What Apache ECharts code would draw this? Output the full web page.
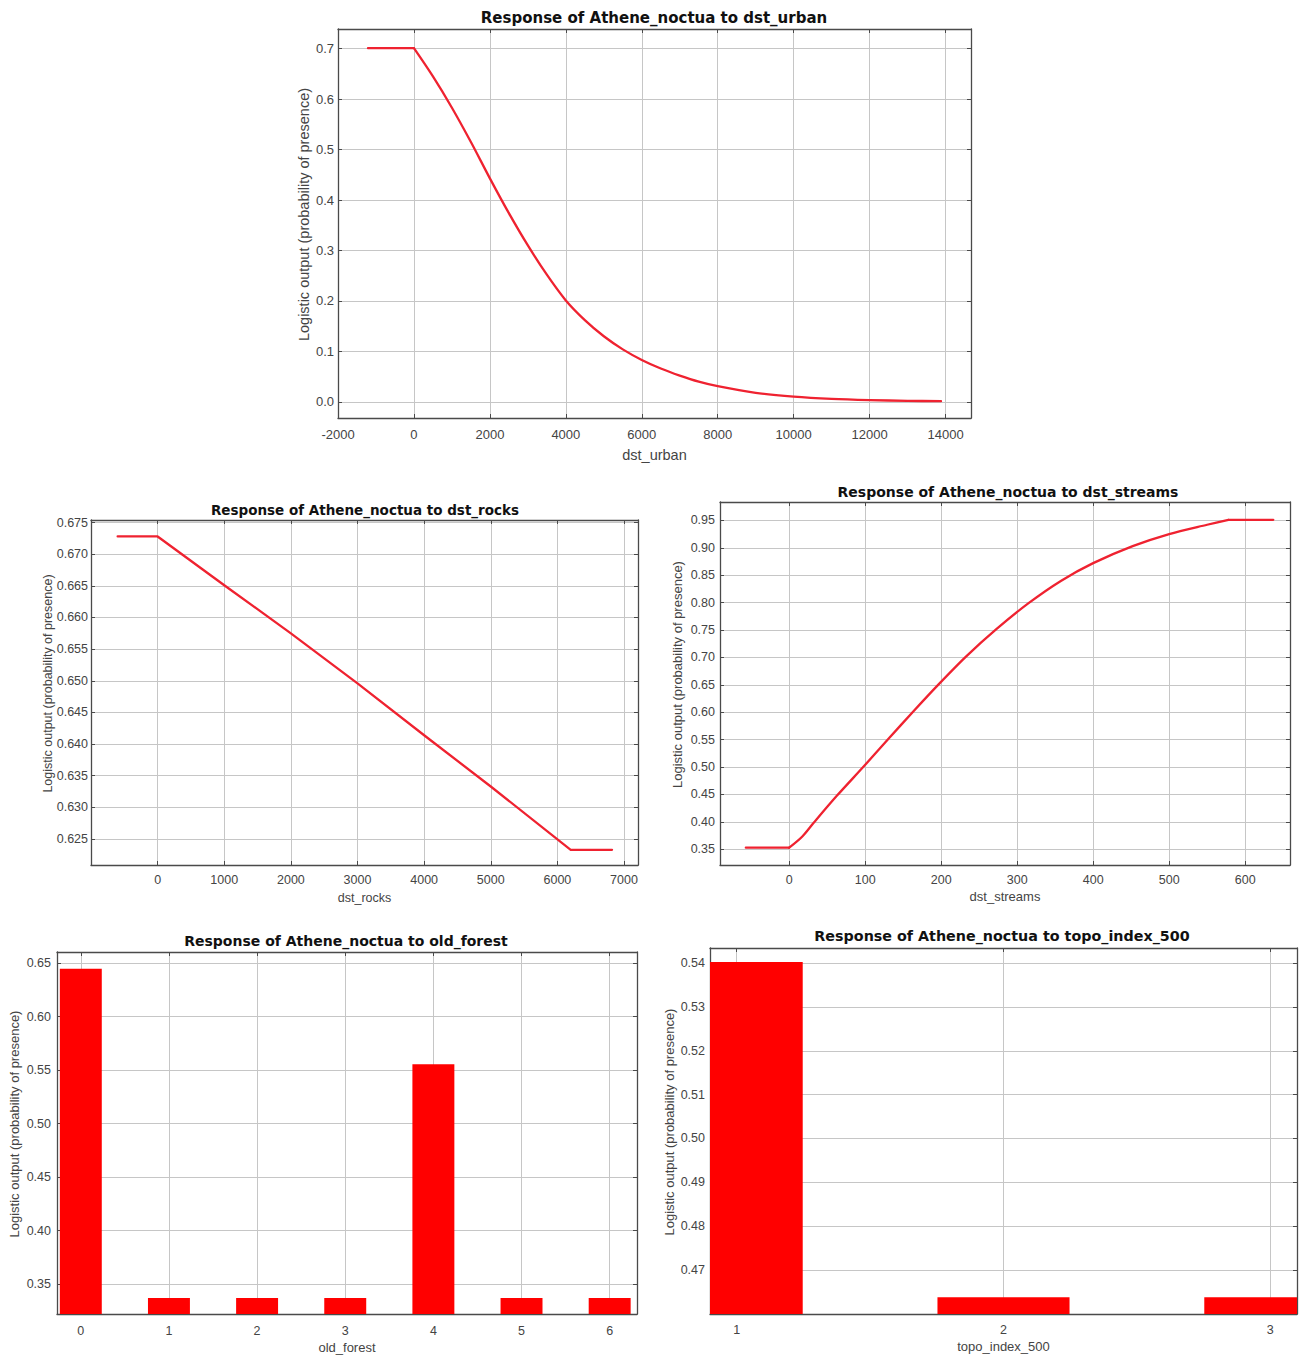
<!DOCTYPE html>
<html>
<head>
<meta charset="utf-8">
<script src="https://cdn.jsdelivr.net/npm/echarts@6/dist/echarts.min.js"></script>
<style>
html,body{margin:0;padding:0;background:#fff;}
#chart{width:1299px;height:1357px;}
</style>
</head>
<body>
<div id="chart"></div>
<script>
const TITLE_PREFIX = 'Response of Athene_noctua to ';
const Y_NAME = 'Logistic output (probability of presence)';

// Panel 1: dst_urban
const urbanX = [-1210, 0, 500, 1000, 1500, 2000, 2500, 3000, 3500, 4000, 4500, 5000, 5500, 6000, 6500, 7000, 7500, 8000, 9000, 10000, 11000, 12000, 13000, 13880];
const urbanY = [0.701, 0.701, 0.645, 0.583, 0.515, 0.443, 0.374, 0.310, 0.252, 0.201, 0.162, 0.130, 0.104, 0.083, 0.066, 0.052, 0.040, 0.031, 0.018, 0.0105, 0.006, 0.0035, 0.002, 0.0013];
const urbanXTicks = [-2000, 0, 2000, 4000, 6000, 8000, 10000, 12000, 14000];
const urbanYTicks = [0, 0.1, 0.2, 0.3, 0.4, 0.5, 0.6, 0.7];

// Panel 2: dst_rocks
const rocksX = [-600, 0, 1000, 2000, 3000, 4000, 5000, 6200, 6820];
const rocksY = [0.6728, 0.6728, 0.6651, 0.6575, 0.6496, 0.6414, 0.6333, 0.6233, 0.6233];
const rocksXTicks = [0, 1000, 2000, 3000, 4000, 5000, 6000, 7000];
const rocksYTicks = [0.625, 0.630, 0.635, 0.640, 0.645, 0.650, 0.655, 0.660, 0.665, 0.670, 0.675];

// Panel 3: dst_streams
const streamsX = [-57, 0, 17, 32, 63, 98, 131, 163, 196, 233, 273, 315, 358, 400, 452, 500, 550, 578, 637];
const streamsY = [0.353, 0.353, 0.373, 0.398, 0.448, 0.501, 0.552, 0.601, 0.650, 0.702, 0.752, 0.799, 0.840, 0.872, 0.903, 0.925, 0.942, 0.951, 0.951];
const streamsXTicks = [0, 100, 200, 300, 400, 500, 600];
const streamsYTicks = [0.35, 0.40, 0.45, 0.50, 0.55, 0.60, 0.65, 0.70, 0.75, 0.80, 0.85, 0.90, 0.95];

// Panel 4: old_forest (categorical)
const forestCats = [0, 1, 2, 3, 4, 5, 6];
const forestY = [0.6447, 0.3369, 0.3369, 0.3369, 0.5555, 0.3369, 0.3369];
const forestXTicks = [0, 1, 2, 3, 4, 5, 6];
const forestYTicks = [0.35, 0.40, 0.45, 0.50, 0.55, 0.60, 0.65];

// Panel 5: topo_index_500 (categorical)
const topoCats = [1, 2, 3];
const topoY = [0.5403, 0.4637, 0.4637];
const topoXTicks = [1, 2, 3];
const topoYTicks = [0.47, 0.48, 0.49, 0.50, 0.51, 0.52, 0.53, 0.54];

const panels = [
  {v: 'dst_urban', kind: 'line', xs: urbanX, ys: urbanY, xt: urbanXTicks, yt: urbanYTicks, dec: 1,
   smoothFrom: 1, smoothTo: urbanX.length - 1,
   grid: {left: 338, top: 29, width: 633, height: 389}, xr: [-2000, 14670], yr: [-0.032, 0.739],
   title: [654, 18, 15], fs: 13, nameFs: 14.5, yGap: 27, xGap: 29, xMargin: 10, yMargin: 4},
  {v: 'dst_rocks', kind: 'line', xs: rocksX, ys: rocksY, xt: rocksXTicks, yt: rocksYTicks, dec: 3,
   smoothFrom: null,
   grid: {left: 91, top: 520, width: 547, height: 345}, xr: [-1000, 7210], yr: [0.6209, 0.6754],
   title: [365, 510, 13.5], fs: 12.5, nameFs: 12.5, yGap: 37, xGap: 26, xMargin: 8, yMargin: 3},
  {v: 'dst_streams', kind: 'line', xs: streamsX, ys: streamsY, xt: streamsXTicks, yt: streamsYTicks, dec: 2,
   smoothFrom: 1, smoothTo: streamsX.length - 2,
   grid: {left: 720, top: 502, width: 570, height: 363}, xr: [-91, 659], yr: [0.3214, 0.9835],
   title: [1008, 492, 14], fs: 12.5, nameFs: 13, yGap: 36, xGap: 25, xMargin: 8, yMargin: 5},
  {v: 'old_forest', kind: 'bar', xs: forestCats, ys: forestY, xt: forestXTicks, yt: forestYTicks, dec: 2, hw: 0.238,
   grid: {left: 57, top: 952, width: 580, height: 362}, xr: [-0.27, 6.31], yr: [0.322, 0.6603],
   title: [346, 941, 14], fs: 12.5, nameFs: 13, yGap: 36, xGap: 27, xMargin: 10, yMargin: 6},
  {v: 'topo_index_500', kind: 'bar', xs: topoCats, ys: topoY, xt: topoXTicks, yt: topoYTicks, dec: 2, hw: 0.2475,
   grid: {left: 710, top: 948, width: 587, height: 366}, xr: [0.9, 3.1], yr: [0.4599, 0.5435],
   title: [1002, 936, 14.3], fs: 12.5, nameFs: 13, yGap: 34, xGap: 26, xMargin: 9, yMargin: 5}
];

const FONT = 'Liberation Sans, Arial, sans-serif';
const BORDER = '#4a4a4a';
const GRIDC = '#c6c6c6';
const RED = '#ff0000';
const LINE_RED = '#ef2230';

function barRenderer(hw, base) {
  return function (params, api) {
    const x = api.value(0), y = api.value(1);
    const p0 = api.coord([x - hw, y]);
    const p1 = api.coord([x + hw, base]);
    const cs = params.coordSys;
    const shape = echarts.graphic.clipRectByRect(
      {x: p0[0], y: p0[1], width: p1[0] - p0[0], height: p1[1] - p0[1]},
      {x: cs.x, y: cs.y, width: cs.width, height: cs.height});
    return shape ? {type: 'rect', shape: shape, style: {fill: RED}} : null;
  };
}

function lineSeries(i, data, smooth) {
  return {
    type: 'line', xAxisIndex: 2 * i, yAxisIndex: 2 * i, data: data,
    showSymbol: false, symbol: 'none', smooth: smooth ? 0.3 : false,
    lineStyle: {color: LINE_RED, width: 2.3, cap: 'round', join: 'round'}, z: 5
  };
}

const option = {
  backgroundColor: '#ffffff',
  animation: false,
  grid: [], xAxis: [], yAxis: [], series: [], graphic: []
};

panels.forEach((p, i) => {
  option.grid.push(Object.assign({outerBoundsMode: 'none', containLabel: false}, p.grid));
  const lineStyle = {color: BORDER, width: 1.3};
  const tickStyle = {show: true, inside: true, length: 4, lineStyle: {color: BORDER, width: 1}};
  option.xAxis.push({
    type: 'value', gridIndex: i, position: 'bottom', min: p.xr[0], max: p.xr[1],
    name: p.v, nameLocation: 'middle', nameGap: p.xGap, nameMoveOverlap: false,
    nameTextStyle: {fontFamily: FONT, fontSize: p.nameFs, color: '#444'},
    axisLine: {show: true, onZero: false, lineStyle: lineStyle},
    axisTick: Object.assign({customValues: p.xt}, tickStyle),
    axisLabel: {customValues: p.xt, formatter: v => String(Math.round(v)), color: '#444',
      fontFamily: FONT, fontSize: p.fs, margin: p.xMargin},
    splitLine: {show: true, lineStyle: {color: GRIDC, width: 1}}
  });
  option.xAxis.push({
    type: 'value', gridIndex: i, position: 'top', min: p.xr[0], max: p.xr[1],
    axisLine: {show: true, onZero: false, lineStyle: lineStyle},
    axisTick: Object.assign({customValues: p.xt}, tickStyle),
    axisLabel: {show: false}, splitLine: {show: false}
  });
  option.yAxis.push({
    type: 'value', gridIndex: i, position: 'left', min: p.yr[0], max: p.yr[1],
    name: Y_NAME, nameLocation: 'middle', nameGap: p.yGap, nameMoveOverlap: false,
    nameTextStyle: {fontFamily: FONT, fontSize: p.nameFs, color: '#444', padding: [0, 0, 0, 18]},
    axisLine: {show: true, onZero: false, lineStyle: lineStyle},
    axisTick: Object.assign({customValues: p.yt}, tickStyle),
    axisLabel: {customValues: p.yt, formatter: v => v.toFixed(p.dec), color: '#444',
      fontFamily: FONT, fontSize: p.fs, margin: p.yMargin},
    splitLine: {show: true, lineStyle: {color: GRIDC, width: 1}}
  });
  option.yAxis.push({
    type: 'value', gridIndex: i, position: 'right', min: p.yr[0], max: p.yr[1],
    axisLine: {show: true, onZero: false, lineStyle: lineStyle},
    axisTick: Object.assign({customValues: p.yt}, tickStyle),
    axisLabel: {show: false}, splitLine: {show: false}
  });
  const data = p.xs.map((x, k) => [x, p.ys[k]]);
  if (p.kind === 'line') {
    if (p.smoothFrom == null) {
      option.series.push(lineSeries(i, data, false));
    } else {
      const a = p.smoothFrom, b = p.smoothTo;
      if (a > 0) option.series.push(lineSeries(i, data.slice(0, a + 1), false));
      option.series.push(lineSeries(i, data.slice(a, b + 1), true));
      if (b < data.length - 1) option.series.push(lineSeries(i, data.slice(b), false));
    }
  } else {
    option.series.push({
      type: 'custom', xAxisIndex: 2 * i, yAxisIndex: 2 * i, data: data,
      encode: {x: 0, y: 1}, clip: true,
      renderItem: barRenderer(p.hw, p.yr[0]), z: 5
    });
  }
  option.graphic.push({
    type: 'text', x: p.title[0], y: p.title[1], z: 10,
    style: {text: TITLE_PREFIX + p.v, fill: '#111', font: 'bold ' + p.title[2] + 'px "DejaVu Sans"',
      textAlign: 'center', textVerticalAlign: 'middle'}
  });
});

const chart = echarts.init(document.getElementById('chart'), null, {renderer: 'svg', width: 1299, height: 1357});
chart.setOption(option);
</script>
</body>
</html>
